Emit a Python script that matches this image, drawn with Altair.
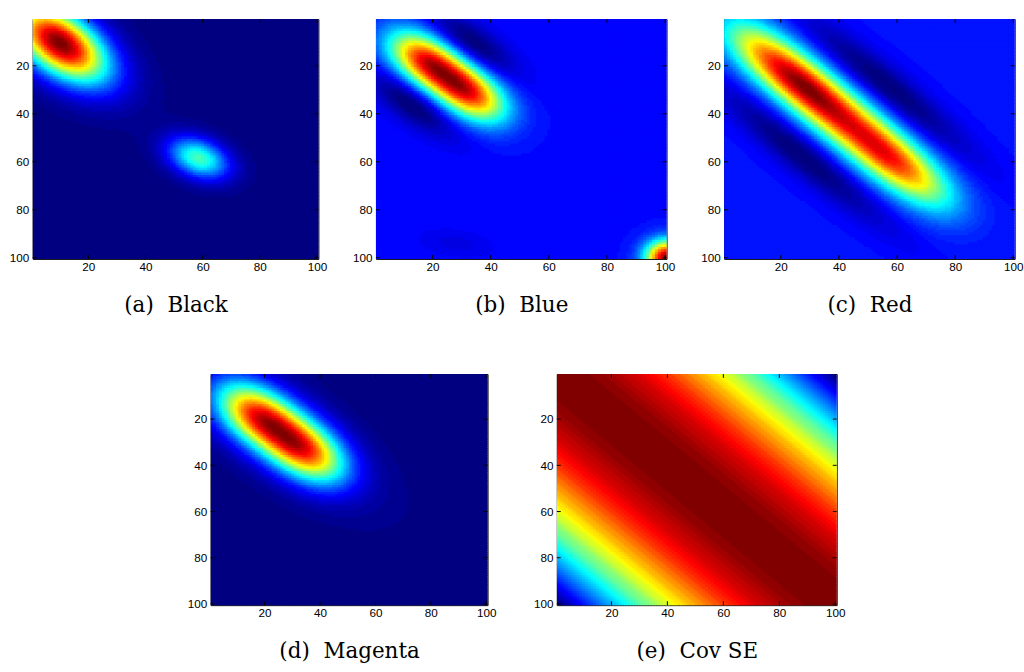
import altair as alt
import numpy as np
import pandas as pd

alt.data_transformers.disable_max_rows()

# Matrix size (rows/columns indexed 1..N)
N = 100
TICKS = [20, 40, 60, 80, 100]

# Components of each map:
# (centre column, centre row, sigma along axis, sigma across axis,
#  axis angle in degrees, amplitude, along-axis profile exponent; 2 = Gaussian)
BLACK_BG = 0.0
BLACK = [
    (10.0, 10.5, 13.5, 7.5, 44, 1.00, 2.0),
    (12.0, 13.0, 20.0, 12.0, 44, 0.10, 2.0),
    (58.5, 58.5, 7.5, 5.0, 30, 0.44, 2.0),
    (58.5, 58.5, 12.0, 8.0, 30, 0.05, 2.0),
]

BLUE_BG = 0.14
BLUE = [
    (25.0, 24.5, 18.0, 6.3, 42, 0.86, 2.8),
    (33.5, 11.0, 13.0, 5.0, 42, -0.16, 2.0),
    (13.5, 36.0, 13.0, 5.0, 42, -0.16, 2.0),
    (100.5, 100.0, 5.0, 5.0, 0, 0.82, 2.0),
    (28.0, 94.0, 9.0, 4.0, 10, -0.035, 2.0),
]

RED_BG = 0.14
RED = [
    (39.5, 40.0, 42.5, 6.8, 45, 0.74, 4.0),
    (28.0, 28.5, 12.0, 5.0, 45, 0.12, 2.0),
    (56.5, 59.0, 9.0, 4.5, 45, 0.04, 2.0),
    (56.5, 28.5, 28.0, 5.0, 45, -0.15, 2.0),
    (27.5, 57.5, 28.0, 5.0, 45, -0.15, 2.0),
]

MAGENTA_BG = 0.0
MAGENTA = [
    (26.0, 26.0, 20.5, 7.5, 42, 1.00, 2.8),
    (24.0, 24.0, 30.0, 12.0, 42, 0.13, 2.0),
]

# Squared-exponential covariance length scale
SE_LENGTH = 120.0

CAPTIONS = ["(a)\u00a0\u00a0Black", "(b)\u00a0\u00a0Blue", "(c)\u00a0\u00a0Red",
            "(d)\u00a0\u00a0Magenta", "(e)\u00a0\u00a0Cov\u00a0SE"]

# jet colormap stops
JET_STOPS = [0.0, 0.125, 0.375, 0.625, 0.875, 1.0]
JET_COLORS = ["#000080", "#0000ff", "#00ffff", "#ffff00", "#ff0000", "#800000"]

idx = np.arange(1, N + 1)
C, R = np.meshgrid(idx, idx)


def mixture(components, background):
    z = np.full(C.shape, background, dtype=float)
    for cc, rc, sa, sb, ang, amp, p in components:
        t = np.deg2rad(ang)
        dx, dy = C - cc, R - rc
        u = dx * np.cos(t) + dy * np.sin(t)
        w = -dx * np.sin(t) + dy * np.cos(t)
        z += amp * np.exp(-0.5 * (np.abs(u / sa) ** p + (w / sb) ** 2))
    return z


def scaled(z):
    # imagesc-style scaling onto a 64-entry colormap
    v = (z - z.min()) / (z.max() - z.min())
    k = np.minimum(np.floor(v * 64), 63)
    return k / 63.0


def table(z):
    return pd.DataFrame({"c": C.ravel(), "r": R.ravel(), "v": np.round(scaled(z).ravel(), 4)})


maps = [
    mixture(BLACK, BLACK_BG),
    mixture(BLUE, BLUE_BG),
    mixture(RED, RED_BG),
    mixture(MAGENTA, MAGENTA_BG),
    np.exp(-((C - R) ** 2) / (2 * SE_LENGTH ** 2)),
]

xscale = alt.Scale(domain=[0.5, N + 0.5], nice=False, zero=False)
yscale = alt.Scale(domain=[0.5, N + 0.5], nice=False, zero=False, reverse=True)
cscale = alt.Scale(domain=JET_STOPS, range=JET_COLORS, interpolate="rgb")
tick_df = pd.DataFrame({"t": TICKS})
TL = 4


def panel(z, caption, w, h):
    heat = alt.Chart(table(z)).transform_calculate(
        x0="datum.c - 0.5", x1="datum.c + 0.9",
        y0="datum.r - 0.5", y1="datum.r + 0.9",
    ).mark_rect(clip=True).encode(
        x=alt.X("x0:Q", scale=xscale,
                axis=alt.Axis(values=TICKS, title=caption, labelPadding=3, titlePadding=23)),
        x2="x1:Q",
        y=alt.Y("y0:Q", scale=yscale,
                axis=alt.Axis(values=TICKS, title="", labelPadding=4)),
        y2="y1:Q",
        color=alt.Color("v:Q", scale=cscale, legend=None),
    )
    tk = alt.Chart(tick_df).mark_rule(color="black", strokeWidth=1)
    xb = tk.encode(x=alt.X("t:Q", scale=xscale), y=alt.value(h), y2=alt.value(h - TL))
    xt = tk.encode(x=alt.X("t:Q", scale=xscale), y=alt.value(0), y2=alt.value(TL))
    yl = tk.encode(y=alt.Y("t:Q", scale=yscale), x=alt.value(0), x2=alt.value(TL))
    yr = tk.encode(y=alt.Y("t:Q", scale=yscale), x=alt.value(w), x2=alt.value(w - TL))
    return alt.layer(heat, xb, xt, yl, yr).properties(width=w, height=h)


row1 = alt.hconcat(
    panel(maps[0], CAPTIONS[0], 293, 246),
    panel(maps[1], CAPTIONS[1], 298, 246),
    panel(maps[2], CAPTIONS[2], 298, 246),
    spacing=24,
)
row2 = alt.hconcat(
    panel(maps[3], CAPTIONS[3], 284, 237),
    panel(maps[4], CAPTIONS[4], 287, 237),
    spacing=36,
)

chart = alt.vconcat(row1, row2, spacing=58, center=True).properties(
    padding={"left": 8, "top": 10, "right": 0, "bottom": 0}
).configure_view(
    stroke="black", strokeWidth=1
).configure_axis(
    domain=False, ticks=False, grid=False,
    labelFont="Liberation Sans", labelFontSize=12, labelColor="black",
    titleFont="DejaVu Serif", titleFontSize=22,
    titleFontWeight="normal", titleColor="black",
)

chart.save("out.html", embed_options={"renderer": "svg", "actions": False})
